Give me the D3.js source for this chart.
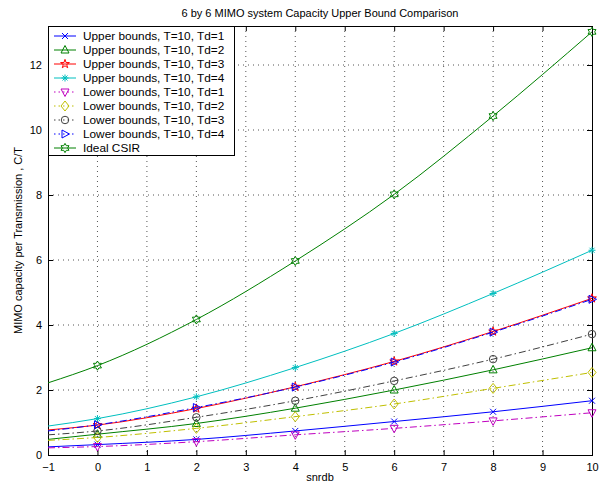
<!DOCTYPE html>
<html>
<head>
<meta charset="utf-8">
<script src="https://cdn.jsdelivr.net/npm/d3@7"></script>
<style>
  body { margin: 0; background: #fff; }
  text { font-family: "Liberation Sans", Arial, Helvetica, sans-serif; }
</style>
</head>
<body>
<svg id="graph"></svg>
<script>
const width = 607;
const height = 486;

/////////////// data
const snrdb = [-1, 0, 2, 4, 6, 8, 10];
const markerSnr = [0, 2, 4, 6, 8, 10];

const upperTd1 = [0.25, 0.32, 0.48, 0.74, 1.03, 1.33, 1.67];
const upperTd2 = [0.48, 0.64, 0.97, 1.44, 2.00, 2.62, 3.30];
const upperTd3 = [0.77, 0.92, 1.43, 2.10, 2.88, 3.80, 4.82];
const upperTd4 = [0.89, 1.12, 1.79, 2.69, 3.74, 4.97, 6.30];
const lowerTd1 = [0.22, 0.26, 0.41, 0.62, 0.82, 1.05, 1.30];
const lowerTd2 = [0.45, 0.54, 0.82, 1.18, 1.57, 2.05, 2.54];
const lowerTd3 = [0.62, 0.74, 1.16, 1.67, 2.28, 2.95, 3.72];
const lowerTd4 = [0.74, 0.93, 1.46, 2.09, 2.86, 3.78, 4.79];
const idealCSIR = [2.22, 2.75, 4.17, 5.97, 8.02, 10.43, 13.02];

const seriesNames = [
  "Upper bounds, T=10, Td=1", "Upper bounds, T=10, Td=2",
  "Upper bounds, T=10, Td=3", "Upper bounds, T=10, Td=4",
  "Lower bounds, T=10, Td=1", "Lower bounds, T=10, Td=2",
  "Lower bounds, T=10, Td=3", "Lower bounds, T=10, Td=4",
  "Ideal CSIR"
];
const seriesValues = [upperTd1, upperTd2, upperTd3, upperTd4,
                      lowerTd1, lowerTd2, lowerTd3, lowerTd4, idealCSIR];

const xTicks = [-1, 0, 1, 2, 3, 4, 5, 6, 7, 8, 9, 10];
const yTicks = [0, 2, 4, 6, 8, 10, 12];

/////////////// styles
const colors = ["#0000ff", "#008000", "#ff0000", "#00bfbf",
                "#bf00bf", "#bfbf00", "#404040", "#0000ff", "#008000"];
const dashes = [null, null, null, null,
                "7,3,1.5,3", "7,3,1.5,3", "7,3,1.5,3", "7,3,1.5,3", null];
const markerTypes = ["x", "triUp", "star5", "asterisk",
                     "triDown", "diamond", "circle", "triRight", "star6"];

function markerPath(type) {
  if (type === "x") return "M-3,-3L3,3M-3,3L3,-3";
  if (type === "asterisk") return "M-3.5,0H3.5M0,-3.5V3.5M-2.5,-2.5L2.5,2.5M-2.5,2.5L2.5,-2.5";
  if (type === "triUp") return "M0,-4.5L4,3L-4,3Z";
  if (type === "triDown") return "M0,4.5L4,-3L-4,-3Z";
  if (type === "triRight") return "M4.5,0L-3,-4L-3,4Z";
  if (type === "diamond") return "M0,-5L4,0L0,5L-4,0Z";
  if (type === "circle") return d3.symbol(d3.symbolCircle, 44)();
  if (type === "star5") return d3.symbol(d3.symbolStar, 24)();
  if (type === "star6") {
    let r = 4.6, p = [];
    for (let k = 0; k < 12; k++) {
      let rr = (k % 2 === 0) ? r : r * 0.58;
      let ang = -Math.PI / 2 + k * Math.PI / 6;
      p.push([rr * Math.cos(ang), rr * Math.sin(ang)]);
    }
    return "M" + p.map(d => d.join(",")).join("L") + "Z";
  }
}

let svg = d3.select('#graph')
        .attr('width', width)
        .attr('height', height)
        .style('background-color', 'white');

const plotLeft = 48, plotRight = 592, plotTop = 26, plotBottom = 455;

let scaleX = d3.scaleLinear().domain([-1, 10]).range([plotLeft, plotRight]);
let scaleY = d3.scaleLinear().domain([0, 13.2]).range([plotBottom, plotTop]);

/////////////// grid
let grid = svg.append("g");
xTicks.forEach(t => {
  if (t === -1 || t === 10) return;
  grid.append("line")
      .attr("x1", scaleX(t)).attr("x2", scaleX(t))
      .attr("y1", plotTop).attr("y2", plotBottom)
      .style("stroke", "#555").style("stroke-dasharray", "1,4");
});
yTicks.forEach(t => {
  if (t === 0) return;
  grid.append("line")
      .attr("x1", plotLeft).attr("x2", plotRight)
      .attr("y1", scaleY(t)).attr("y2", scaleY(t))
      .style("stroke", "#555").style("stroke-dasharray", "1,4");
});

/////////////// axes (ticks inside, on all four sides)
let xAxis = d3.axisBottom(scaleX).tickValues(xTicks).tickSize(-5).tickPadding(8)
        .tickFormat(d => d < 0 ? "\u2212" + Math.abs(d) : d);
let yAxis = d3.axisLeft(scaleY).tickValues(yTicks).tickSize(-5).tickPadding(6);

svg.append("g").attr("transform", "translate(0," + plotBottom + ")").call(xAxis);
svg.append("g").attr("transform", "translate(" + plotLeft + ",0)").call(yAxis);
svg.append("g").attr("transform", "translate(0," + plotTop + ")")
   .call(d3.axisTop(scaleX).tickValues(xTicks).tickSize(-5).tickFormat(""));
svg.append("g").attr("transform", "translate(" + plotRight + ",0)")
   .call(d3.axisRight(scaleY).tickValues(yTicks).tickSize(-5).tickFormat(""));

svg.selectAll(".domain").remove();
svg.selectAll(".tick line").style("stroke", "#000");
svg.selectAll(".tick text").style("font-size", "11px").style("fill", "#000")
   .style("font-family", '"Liberation Sans", Arial, sans-serif');

svg.append("rect")
   .attr("x", plotLeft + 0.5).attr("y", plotTop + 0.5)
   .attr("width", plotRight - plotLeft).attr("height", plotBottom - plotTop)
   .style("fill", "none").style("stroke", "#000");

/////////////// curves
let line = d3.line()
        .x((d, i) => scaleX(snrdb[i]))
        .y(d => scaleY(d))
        .curve(d3.curveMonotoneX);

seriesValues.forEach((vals, s) => {
  svg.append("path")
     .datum(vals)
     .attr("d", line)
     .attr("fill", "none")
     .attr("stroke", colors[s])
     .attr("stroke-width", 1)
     .attr("stroke-dasharray", dashes[s]);

  svg.selectAll(".m" + s)
     .data(markerSnr)
     .enter().append("path")
     .attr("class", "m" + s)
     .attr("d", markerPath(markerTypes[s]))
     .attr("transform", d => "translate(" + scaleX(d) + "," + scaleY(vals[snrdb.indexOf(d)]) + ")")
     .attr("fill", "none")
     .attr("stroke", colors[s])
     .attr("stroke-width", 1);
});

/////////////// legend
let legend = svg.append("g");
legend.append("rect")
      .attr("x", plotLeft + 0.5).attr("y", plotTop + 0.5)
      .attr("width", 186).attr("height", 129)
      .style("fill", "white").style("stroke", "#000");

seriesNames.forEach((name, s) => {
  let yy = 36 + s * 14;
  legend.append("line")
        .attr("x1", 54).attr("x2", 76).attr("y1", yy).attr("y2", yy)
        .attr("stroke", colors[s])
        .attr("stroke-dasharray", dashes[s] ? "1.5,3" : null);
  legend.append("path")
        .attr("d", markerPath(markerTypes[s]))
        .attr("transform", "translate(65," + yy + ")")
        .attr("fill", "none").attr("stroke", colors[s]);
  legend.append("text")
        .attr("x", 83).attr("y", yy + 4)
        .style("font-size", "11.8px")
        .text(name);
});

/////////////// labels
svg.append("text")
   .attr("x", (plotLeft + plotRight) / 2).attr("y", 17)
   .attr("text-anchor", "middle").style("font-size", "11px")
   .text("6 by 6 MIMO system Capacity Upper Bound Comparison");

svg.append("text")
   .attr("x", (plotLeft + plotRight) / 2).attr("y", 481)
   .attr("text-anchor", "middle").style("font-size", "11px")
   .text("snrdb");

svg.append("text")
   .attr("transform", "translate(22," + (plotTop + plotBottom) / 2 + ") rotate(-90)")
   .attr("text-anchor", "middle").style("font-size", "11px")
   .text("MIMO capacity per Transmission , C/T");
</script>
</body>
</html>
